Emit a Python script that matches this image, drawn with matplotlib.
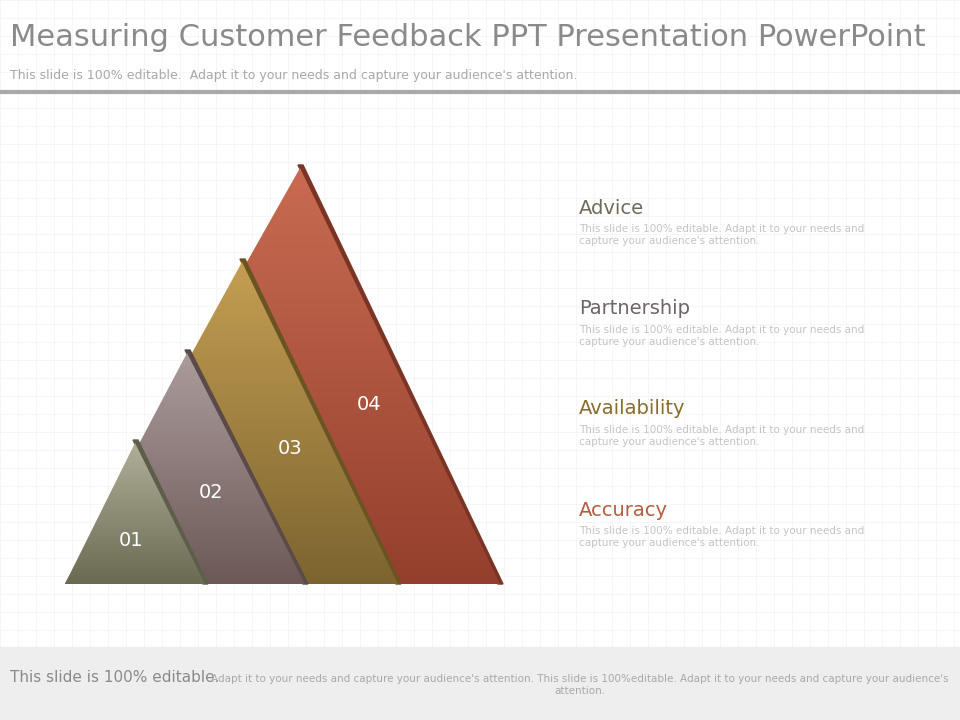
import numpy as np
import matplotlib.pyplot as plt
from matplotlib.patches import Polygon, Rectangle
from matplotlib.colors import LinearSegmentedColormap

labels = ['01', '02', '03', '04']
apex_x = [135, 187, 242, 300]
apex_y = [443, 353, 262, 168]
right_x = [205, 305, 398, 500]
top_colors = ['#b0b09a', '#ab9c9c', '#c49e52', '#c96b52']
bot_colors = ['#6a6952', '#6c5957', '#7c6430', '#943f2d']
edge_colors = ['#5e5d4a', '#5a4a48', '#6a5422', '#7a3424']

titles = ['Advice', 'Partnership', 'Availability', 'Accuracy']
title_colors = ['#6e6a5a', '#6e6464', '#8a6c2c', '#b45c40']
title_y = [208, 309, 409, 510]
body = "This slide is 100% editable. Adapt it to your needs and\ncapture your audience's attention."

fig = plt.figure(figsize=(9.6, 7.2), dpi=100)
ax = fig.add_axes([0, 0, 1, 1])
ax.set_xlim(0, 960)
ax.set_ylim(720, 0)
ax.axis('off')

# faint grid background
for g in range(0, 960, 18):
    ax.axvline(g, color='#f3f3f3', lw=0.5, zorder=0)
for g in range(0, 720, 18):
    ax.axhline(g, color='#f3f3f3', lw=0.5, zorder=0)

base_y = 584
base_left = 65
for i in range(3, -1, -1):
    ax_, ay, rx = apex_x[i], apex_y[i], right_x[i]
    # shadow edge on right
    sh = Polygon([(ax_ - 2, ay - 3), (ax_ + 3, ay - 3), (rx + 3, base_y), (rx - 2, base_y)],
                 closed=True, color=edge_colors[i], zorder=2 + (3 - i) * 2)
    ax.add_patch(sh)
    tri = Polygon([(ax_, ay), (base_left, base_y), (rx, base_y)], closed=True,
                  facecolor='none', edgecolor='none', zorder=3 + (3 - i) * 2)
    ax.add_patch(tri)
    cmap = LinearSegmentedColormap.from_list('g%d' % i, [top_colors[i], bot_colors[i]])
    grad = np.linspace(0, 1, 256).reshape(-1, 1)
    im = ax.imshow(grad, cmap=cmap, extent=(base_left, rx, base_y, ay), aspect='auto',
                   zorder=3 + (3 - i) * 2)
    im.set_clip_path(tri)

label_pos = [(131, 540), (211, 493), (290, 449), (369, 404)]
for lab, (x, y) in zip(labels, label_pos):
    ax.text(x, y, lab, color='white', fontsize=14, ha='center', va='center', zorder=20)

for t, c, y in zip(titles, title_colors, title_y):
    ax.text(579, y, t, color=c, fontsize=14, ha='left', va='center')
    ax.text(579, y + 27, body, color='#c4c4c4', fontsize=7.5, ha='left', va='center',
            linespacing=1.2)

ax.text(10, 38, 'Measuring Customer Feedback PPT Presentation PowerPoint', color='#8a8a8a',
        fontsize=22, ha='left', va='center')
ax.text(10, 75, "This slide is 100% editable.  Adapt it to your needs and capture your audience's attention.",
        color='#a8a8a8', fontsize=9, ha='left', va='center')
ax.plot([0, 960], [92, 92], color='#a8a8a8', lw=3)

ax.add_patch(Rectangle((0, 647), 960, 73, color='#eeeeee', zorder=1))
ax.text(10, 678, 'This slide is 100% editable.', color='#8a8a8a', fontsize=11, ha='left', va='center', zorder=2)
ax.text(580, 685, "Adapt it to your needs and capture your audience's attention. This slide is 100%editable. Adapt it to your needs and capture your audience's\nattention.",
        color='#a8a8a8', fontsize=7.5, ha='center', va='center', zorder=2, linespacing=1.3)

fig.savefig('out.png', dpi=100)
